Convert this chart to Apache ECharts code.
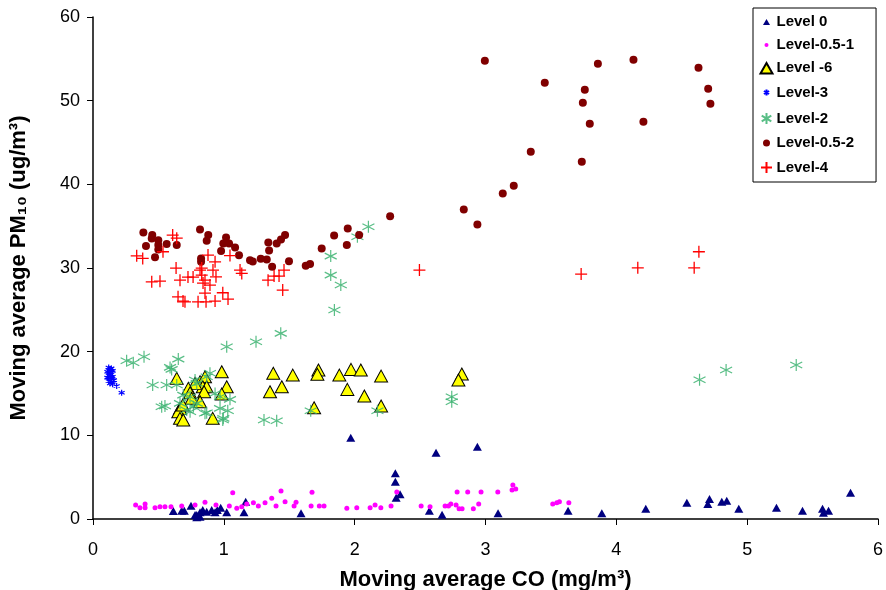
<!DOCTYPE html>
<html>
<head>
<meta charset="utf-8">
<title>Moving average PM10 vs CO</title>
<script src="https://cdn.jsdelivr.net/npm/echarts@6/dist/echarts.min.js"></script>
<style>
	html, body { margin: 0; padding: 0; background: #fff; }
	#chart { width: 886px; height: 590px; }
</style>
</head>
<body>
<div id="chart"></div>
<script>
// 各级别数据 [CO, PM10]
var level0 = [
	[0.614, 0.96], [0.678, 0.99], [0.698, 0.99], [0.749, 1.59], [0.780, 0.48], [0.793, 0.20],
	[0.818, 0.80], [0.839, 1.08], [0.869, 0.87], [0.907, 1.08], [0.933, 0.80], [0.950, 1.08],
	[0.976, 1.35], [1.022, 0.80], [1.154, 0.80], [1.167, 2.07], [0.818, 0.28], [0.793, 0.48],
	[1.590, 0.68], [1.970, 9.71], [2.311, 5.46], [2.311, 4.46], [2.347, 2.95], [2.317, 2.55],
	[2.571, 0.99], [2.622, 7.92], [2.668, 0.51], [2.938, 8.64], [3.096, 0.68], [3.631, 0.99],
	[3.889, 0.68], [4.225, 1.23], [4.539, 1.95], [4.712, 2.39], [4.699, 1.79], [4.806, 2.07],
	[4.844, 2.19], [4.936, 1.23], [5.224, 1.35], [5.423, 0.99], [5.576, 1.23], [5.583, 0.75],
	[5.622, 0.99], [5.790, 3.15]
];
var level05_1 = [
	[0.326, 1.67], [0.359, 1.35], [0.398, 1.79], [0.398, 1.35], [0.474, 1.35], [0.512, 1.47],
	[0.550, 1.47], [0.596, 1.47], [0.678, 1.55], [0.780, 1.67], [0.856, 1.99], [0.940, 1.67],
	[1.068, 3.15], [1.042, 1.55], [1.099, 1.28], [1.137, 1.47], [1.175, 1.79], [1.226, 1.95],
	[1.264, 1.55], [1.315, 1.95], [1.366, 2.47], [1.399, 1.55], [1.437, 3.35], [1.468, 2.07],
	[1.537, 1.55], [1.552, 1.99], [1.667, 1.55], [1.674, 3.19], [1.730, 1.55], [1.766, 1.55],
	[1.940, 1.28], [2.016, 1.35], [2.118, 1.35], [2.156, 1.67], [2.200, 1.35], [2.278, 1.55],
	[2.322, 3.23], [2.508, 1.55], [2.576, 1.47], [2.691, 1.55], [2.717, 1.55], [2.735, 1.79],
	[2.775, 1.67], [2.798, 1.23], [2.821, 1.23], [2.783, 3.23], [2.864, 3.23], [2.907, 1.23],
	[2.948, 1.79], [2.966, 3.23], [3.094, 3.23], [3.209, 4.06], [3.203, 3.46], [3.231, 3.58],
	[3.514, 1.79], [3.545, 1.95], [3.565, 2.07], [3.637, 1.95]
];
var levelM6 = [
	[0.640, 16.81], [0.984, 17.60], [1.022, 15.81], [0.984, 14.93], [0.818, 16.40], [0.856, 17.00],
	[0.839, 15.81], [0.869, 15.81], [0.780, 16.21], [0.729, 15.61], [0.742, 15.09], [0.849, 15.21],
	[0.754, 14.42], [0.818, 14.01], [0.665, 13.22], [0.652, 12.82], [0.665, 12.03], [0.690, 11.83],
	[0.915, 12.03], [0.686, 13.62], [1.378, 17.41], [1.527, 17.20], [1.723, 17.80], [1.715, 17.29],
	[1.883, 17.20], [1.972, 17.88], [2.047, 17.80], [2.202, 17.08], [1.353, 15.21], [1.443, 15.81],
	[1.944, 15.49], [2.074, 14.70], [1.690, 13.30], [2.202, 13.50], [2.819, 17.32], [2.793, 16.61]
];
var level3 = [
	[0.12, 18.1], [0.13, 17.9], [0.14, 18.0], [0.11, 17.6], [0.13, 17.5], [0.15, 17.7],
	[0.12, 17.2], [0.14, 17.3], [0.11, 16.9], [0.13, 16.8], [0.15, 17.0], [0.12, 16.5],
	[0.14, 16.4], [0.16, 16.6], [0.13, 16.2], [0.15, 16.1], [0.12, 17.8], [0.14, 16.9],
	[0.181, 15.89], [0.219, 15.09]
];
var level2 = [
	[0.257, 18.91], [0.308, 18.67], [0.390, 19.39], [0.652, 19.11], [0.589, 18.12], [0.601, 17.88],
	[0.456, 16.01], [0.563, 16.01], [0.640, 16.01], [0.525, 13.42], [0.550, 13.50], [1.022, 20.59],
	[1.246, 21.18], [1.435, 22.19], [1.307, 11.83], [1.404, 11.75], [0.992, 11.83], [1.030, 12.94],
	[1.047, 14.30], [0.971, 14.61], [0.933, 15.01], [0.856, 12.63], [0.742, 14.61], [0.767, 13.42],
	[0.716, 13.02], [0.793, 16.21], [0.869, 17.00], [0.690, 14.81], [0.665, 13.82], [0.971, 13.22],
	[0.869, 12.70], [0.996, 12.03], [0.793, 13.82], [0.742, 12.82], [0.780, 16.61], [0.894, 17.41],
	[2.105, 34.92], [2.021, 33.73], [1.817, 31.42], [1.817, 29.15], [1.894, 27.96], [1.845, 24.97],
	[1.664, 12.94], [2.174, 12.94], [2.742, 14.61], [2.742, 14.01], [4.636, 16.65], [4.839, 17.80],
	[5.375, 18.40]
];
var level05_2 = [
	[0.385, 34.25], [0.453, 33.93], [0.449, 33.54], [0.499, 33.33], [0.499, 32.74], [0.499, 32.22],
	[0.405, 32.62], [0.563, 32.86], [0.640, 32.74], [0.474, 31.27], [0.818, 34.61], [0.881, 33.93],
	[0.869, 33.25], [0.826, 31.15], [0.826, 30.74], [1.017, 33.66], [0.996, 32.94], [1.040, 32.94],
	[1.086, 32.46], [0.979, 32.02], [1.116, 31.51], [1.200, 30.94], [1.221, 30.79], [1.282, 31.10],
	[1.328, 31.03], [1.369, 30.14], [1.340, 33.06], [1.346, 32.10], [1.404, 32.94], [1.437, 33.42],
	[1.468, 33.93], [1.498, 30.82], [1.626, 30.26], [1.659, 30.47], [1.748, 32.34], [1.843, 33.89],
	[1.947, 34.73], [1.940, 32.74], [2.034, 33.93], [2.271, 36.20], [2.834, 37.00], [2.938, 35.21],
	[2.995, 54.76], [3.132, 38.91], [3.216, 39.82], [3.346, 43.88], [3.453, 52.13], [3.736, 42.69],
	[3.744, 49.74], [3.759, 51.29], [3.797, 47.23], [3.859, 54.40], [4.131, 54.88], [4.207, 47.47],
	[4.628, 53.92], [4.702, 51.41], [4.719, 49.62]
];
var level4 = [
	[0.334, 31.46], [0.380, 31.15], [0.449, 28.35], [0.512, 28.43], [0.609, 33.93], [0.640, 33.57],
	[0.535, 31.94], [0.635, 29.99], [0.665, 28.55], [0.726, 28.91], [0.765, 28.91], [0.650, 26.56],
	[0.688, 26.05], [0.703, 25.96], [0.803, 25.96], [0.864, 25.96], [0.933, 26.05], [0.831, 29.99],
	[0.831, 29.15], [0.818, 29.75], [0.841, 28.20], [0.856, 27.00], [0.856, 28.55], [0.879, 31.54],
	[0.933, 30.74], [0.917, 29.75], [0.940, 28.95], [0.894, 27.96], [0.992, 27.04], [1.032, 26.28],
	[1.047, 31.48], [1.124, 29.75], [1.137, 29.35], [1.338, 28.55], [1.384, 29.03], [1.422, 29.03],
	[1.460, 29.75], [1.450, 27.36], [2.495, 29.75], [3.731, 29.27], [4.164, 30.02], [4.595, 30.02],
	[4.631, 31.94]
];
var seriesNames = ["Level 0", "Level-0.5-1", "Level -6", "Level-3", "Level-2", "Level-0.5-2", "Level-4"];

var plusPath = "path://M5,0L5,10M0,5L10,5";
var starPath = "path://M5,0L5,10M0.7,2.5L9.3,7.5M0.7,7.5L9.3,2.5";
// 图例图标：先用两个 M 点撑出 14x14 的框，图标本身大小才能各不相同
var legendIcons = [
	"path://M0,0M14,14M3.5,10L7,4L10.5,10Z",
	"path://M0,0M14,14M5,7A2,2,0,1,1,9,7A2,2,0,1,1,5,7Z",
	"path://M0,0M14,14M1,12.5L7,2L13,12.5Z",
	"path://M0,0M14,14M7,4L7,10M4.4,5.5L9.6,8.5M4.4,8.5L9.6,5.5",
	"path://M0,0M14,14M7,1.5L7,12.5M2.2,4.2L11.8,9.8M2.2,9.8L11.8,4.2",
	"path://M0,0M14,14M3.5,7A3.5,3.5,0,1,1,10.5,7A3.5,3.5,0,1,1,3.5,7Z",
	"path://M0,0M14,14M7,1.5L7,12.5M1.5,7L12.5,7"
];
var font = "Liberation Sans, Arial, sans-serif";

var legendData = [];
for (var i = 0; i < seriesNames.length; i++) {
	legendData.push({ name: seriesNames[i], icon: legendIcons[i] });
}

var myChart = echarts.init(document.getElementById("chart"));
var options = {
	animation: false,
	backgroundColor: "#fff",
	grid: { left: 93, top: 17, right: 8, bottom: 71, outerBoundsMode: "none", containLabel: false },
	legend: {
		orient: "vertical",
		left: 753,
		top: 8,
		padding: [6, 22, 5, 4],
		itemGap: 7,
		itemWidth: 14,
		itemHeight: 14,
		backgroundColor: "#fff",
		borderColor: "#000",
		borderWidth: 1,
		borderRadius: 0,
		textStyle: { fontFamily: font, fontSize: 15, fontWeight: "bold", color: "#000", lineHeight: 16, padding: [0, 0, 0, -2] },
		data: legendData
	},
	xAxis: {
		type: "value",
		min: 0,
		max: 6,
		interval: 1,
		name: "Moving average CO (mg/m\u00b3)",
		nameLocation: "middle",
		nameGap: 50,
		nameTextStyle: { fontFamily: font, fontSize: 22, fontWeight: "bold", color: "#000" },
		splitLine: { show: false },
		axisLine: { lineStyle: { color: "#000", width: 1.5 } },
		axisTick: { length: 6, lineStyle: { color: "#000" } },
		axisLabel: { fontFamily: font, fontSize: 18, color: "#000", margin: 22 }
	},
	yAxis: {
		type: "value",
		min: 0,
		max: 60,
		interval: 10,
		name: "Moving average PM\u2081\u2080 (ug/m\u00b3)",
		nameLocation: "middle",
		nameGap: 63,
		nameTextStyle: { fontFamily: font, fontSize: 22, fontWeight: "bold", color: "#000" },
		splitLine: { show: false },
		axisLine: { show: true, lineStyle: { color: "#000", width: 1.5 } },
		axisTick: { show: true, length: 6, lineStyle: { color: "#000" } },
		axisLabel: { fontFamily: font, fontSize: 18, color: "#000", margin: 13 }
	},
	series: [
		{
			name: seriesNames[0], type: "scatter", data: level0,
			symbol: "triangle", symbolSize: [9, 8],
			itemStyle: { color: "#000080", opacity: 1 }
		},
		{
			name: seriesNames[1], type: "scatter", data: level05_1,
			symbol: "circle", symbolSize: 5,
			itemStyle: { color: "#ff00ff", opacity: 1 }
		},
		{
			name: seriesNames[2], type: "scatter", data: levelM6,
			symbol: "triangle", symbolSize: [13, 12],
			itemStyle: { color: "#ffff00", borderColor: "#000", borderWidth: 1, opacity: 1 }
		},
		{
			name: seriesNames[3], type: "scatter", data: level3,
			symbol: starPath, symbolSize: 6,
			itemStyle: { color: "none", borderColor: "#0000ff", borderWidth: 1.2, opacity: 1 }
		},
		{
			name: seriesNames[4], type: "scatter", data: level2,
			symbol: starPath, symbolSize: 12,
			itemStyle: { color: "none", borderColor: "#3cb371", borderWidth: 1.2, opacity: 0.85 }
		},
		{
			name: seriesNames[5], type: "scatter", data: level05_2,
			symbol: "circle", symbolSize: 8,
			itemStyle: { color: "#800000", opacity: 1 }
		},
		{
			name: seriesNames[6], type: "scatter", data: level4,
			symbol: plusPath, symbolSize: 12,
			itemStyle: { color: "none", borderColor: "#ff0000", borderWidth: 1.3, opacity: 1 }
		}
	]
};
myChart.setOption(options);
</script>
</body>
</html>
